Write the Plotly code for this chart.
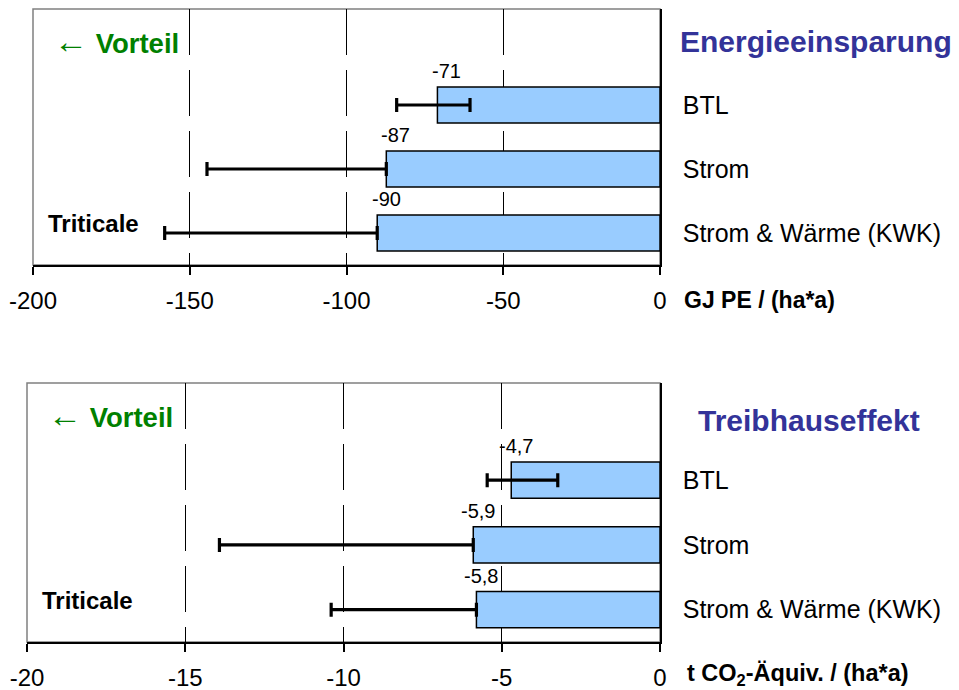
import plotly.graph_objects as go

# ---------------- data ----------------
categories = ["BTL", "Strom", "Strom & Wärme (KWK)"]

energy_values = [-71.0, -87.3, -90.2]
energy_low = [-84.0, -144.5, -158.0]
energy_high = [-60.6, -87.3, -90.2]
energy_labels = ["-71", "-87", "-90"]
energy_ticks = [-200, -150, -100, -50, 0]
energy_ticktext = ["-200", "-150", "-100", "-50", "0"]

ghg_values = [-4.7, -5.9, -5.8]
ghg_low = [-5.46, -13.92, -10.39]
ghg_high = [-3.23, -5.9, -5.8]
ghg_labels = ["-4,7", "-5,9", "-5,8"]
ghg_ticks = [-20, -15, -10, -5, 0]
ghg_ticktext = ["-20", "-15", "-10", "-5", "0"]

# ---------------- style ----------------
W, H = 959, 690
FONT = "Arial, 'Liberation Sans', sans-serif"
BAR_COLOR = "#99CCFF"
TITLE_COLOR = "#333399"
GREEN = "#008000"


def px_x(p):
    return p / W


def px_y(p):
    return 1 - p / H


fig = go.Figure()

panels = [
    dict(vals=energy_values, low=energy_low, high=energy_high, labels=energy_labels,
         ticks=energy_ticks, ticktext=energy_ticktext, xa="x", ya="y",
         xdom=[px_x(33), px_x(660)], ydom=[px_y(265), px_y(9)], lxshift=9, lyshift=34),
    dict(vals=ghg_values, low=ghg_low, high=ghg_high, labels=ghg_labels,
         ticks=ghg_ticks, ticktext=ghg_ticktext, xa="x2", ya="y2",
         xdom=[px_x(27), px_x(660)], ydom=[px_y(642), px_y(383)], lxshift=5, lyshift=34),
]

for i, p in enumerate(panels):
    plus = [h - v for h, v in zip(p["high"], p["vals"])]
    minus = [v - l for v, l in zip(p["vals"], p["low"])]
    fig.add_trace(go.Bar(
        x=p["vals"], y=categories, orientation="h",
        xaxis=p["xa"], yaxis=p["ya"], width=0.56,
        marker=dict(color=BAR_COLOR, line=dict(color="black", width=1.5)),
        error_x=dict(type="data", symmetric=False, array=plus, arrayminus=minus,
                     color="black", thickness=3.2, width=7),
        showlegend=False, hoverinfo="skip",
    ))
    for v, c, t in zip(p["vals"], categories, p["labels"]):
        fig.add_annotation(x=v, y=c, xref=p["xa"], yref=p["ya"], text=t,
                           showarrow=False, xshift=p["lxshift"], yshift=p["lyshift"],
                           font=dict(family=FONT, size=20, color="black"))
    # gray plot-area frame
    fig.add_shape(type="rect", xref=p["xa"] + " domain", yref=p["ya"] + " domain",
                  x0=0, x1=1, y0=0, y1=1, line=dict(color="#808080", width=1.5),
                  layer="below")
    suffix = "" if i == 0 else "2"
    fig.update_layout(**{
        "xaxis" + suffix: dict(
            domain=p["xdom"], anchor=p["ya"], range=[p["ticks"][0], p["ticks"][-1]],
            tickvals=p["ticks"], ticktext=p["ticktext"],
            showline=True, linecolor="black", linewidth=1.5,
            ticks="outside", ticklen=8, tickcolor="black", tickwidth=1.5,
            showgrid=True, gridcolor="black", gridwidth=1, griddash="46px,15px",
            zeroline=False, ticklabelstandoff=5, automargin=False,
            tickfont=dict(family=FONT, size=24, color="black"), fixedrange=True,
        ),
        "yaxis" + suffix: dict(
            domain=p["ydom"], anchor=p["xa"], side="right",
            type="category", categoryorder="array", categoryarray=categories,
            range=[2.5, -1.5], showline=True, linecolor="black", linewidth=1.5,
            ticks="", showgrid=False, zeroline=False, ticklabelstandoff=16,
            automargin=False,
            tickfont=dict(family=FONT, size=25, color="black"), fixedrange=True,
        ),
    })

# ---------------- text annotations ----------------
ARROW = "<span style='font-size:34px'>←</span> <b>Vorteil</b>"
texts = [
    ("<b>Energieeinsparung</b>", 678, 42, 30, TITLE_COLOR),
    ("<b>Treibhauseffekt</b>", 696, 420, 30, TITLE_COLOR),
    (ARROW, 52, 41, 27.5, GREEN),
    (ARROW, 46, 415, 27.5, GREEN),
    ("<b>Triticale</b>", 46, 223, 24, "black"),
    ("<b>Triticale</b>", 40, 600, 24, "black"),
    ("<b>GJ PE / (ha*a)</b>", 682, 300, 23, "black"),
    ("<b>t CO<sub>2</sub>-Äquiv. / (ha*a)</b>", 685, 674, 23.5, "black"),
]
for t, x, y, s, c in texts:
    fig.add_annotation(x=px_x(x), y=px_y(y), xref="paper", yref="paper", text=t,
                       showarrow=False, xanchor="left", yanchor="middle",
                       font=dict(family=FONT, size=s, color=c))

fig.update_layout(
    width=W, height=H, margin=dict(l=0, r=0, t=0, b=0, autoexpand=False),
    paper_bgcolor="white", plot_bgcolor="white", bargap=0.4,
    font=dict(family=FONT),
)

fig.write_html("out.html", config={"displayModeBar": False},
               post_script="document.body.style.margin='0px';")
